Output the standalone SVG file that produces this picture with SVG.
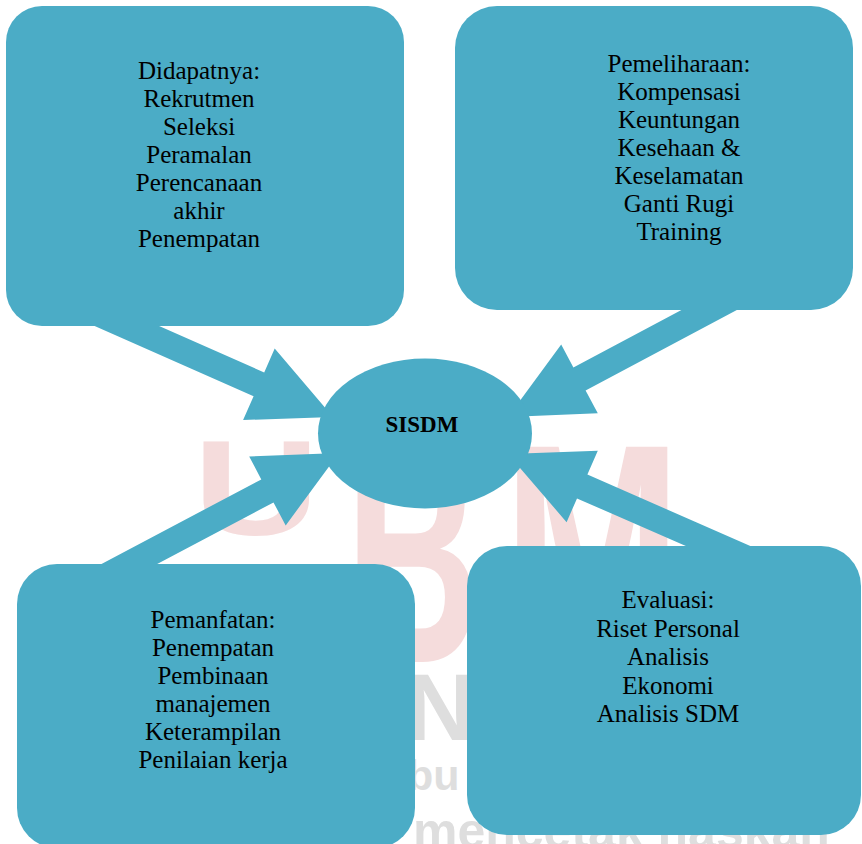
<svg xmlns="http://www.w3.org/2000/svg" width="862" height="844" viewBox="0 0 862 844">
<style>
.shape{fill:#4BACC6;stroke:none}
.lbl{font-family:"Liberation Serif","Times New Roman",serif;font-size:25px;fill:#000;text-anchor:middle}
.title{font-family:"Liberation Serif","Times New Roman",serif;font-size:23px;font-weight:bold;fill:#000;text-anchor:middle}
.wmp{font-family:"Liberation Sans",Arial,sans-serif;font-weight:bold;fill:#f5dcdc}
.wmg{font-family:"Liberation Sans",Arial,sans-serif;font-weight:bold;fill:#dedede}
</style>
<rect width="862" height="844" fill="#ffffff"/>
<g id="watermark">
<text class="wmp" x="148.5" y="535" font-size="135" transform="scale(1.3,1)">U</text>
<text class="wmp" x="575" y="662" font-size="313" transform="scale(0.6,1)">B</text>
<text class="wmp" x="733" y="662" font-size="313" transform="scale(0.686,1)">M</text>
<text class="wmg" x="406" y="740" font-size="95">N</text>
<text class="wmg" x="407" y="790" font-size="43">bu</text>
<text class="wmg" x="413" y="848" font-size="50">mencetak naskah</text>
</g>
<g id="connectors">
<polygon class="shape" points="62.4,311.8 253.6,396.2 243.1,420 333,417 274.7,348.6 264.2,372.4 73,288"/>
<polygon class="shape" points="750,273.4 573.4,367.4 561.2,344.5 508,417 597.8,413.3 585.6,390.4 762.2,296.4"/>
<polygon class="shape" points="96.7,596 273.5,502.4 285.7,525.4 339,453 249.2,456.4 261.3,479.4 84.5,573"/>
<polygon class="shape" points="770.6,554.8 587.4,474.6 597.8,450.8 508,454 566.6,522.2 577,498.4 760.2,578.6"/>
</g>
<g id="node-didapatnya">
<rect class="shape" x="6" y="6" width="398" height="320" rx="36" ry="36"/>
<text class="lbl" x="199" y="79">Didapatnya:</text>
<text class="lbl" x="199" y="107">Rekrutmen</text>
<text class="lbl" x="199" y="135">Seleksi</text>
<text class="lbl" x="199" y="163">Peramalan</text>
<text class="lbl" x="199" y="191">Perencanaan</text>
<text class="lbl" x="199" y="219">akhir</text>
<text class="lbl" x="199" y="247">Penempatan</text>
</g>
<g id="node-pemeliharaan">
<rect class="shape" x="455" y="6" width="398" height="304" rx="42" ry="42"/>
<text class="lbl" x="679" y="72">Pemeliharaan:</text>
<text class="lbl" x="679" y="100">Kompensasi</text>
<text class="lbl" x="679" y="128">Keuntungan</text>
<text class="lbl" x="679" y="156">Kesehaan &amp;</text>
<text class="lbl" x="679" y="184">Keselamatan</text>
<text class="lbl" x="679" y="212">Ganti Rugi</text>
<text class="lbl" x="679" y="240">Training</text>
</g>
<g id="node-pemanfatan">
<rect class="shape" x="17" y="564" width="398" height="284" rx="40" ry="40"/>
<text class="lbl" x="213" y="628">Pemanfatan:</text>
<text class="lbl" x="213" y="656">Penempatan</text>
<text class="lbl" x="213" y="684">Pembinaan</text>
<text class="lbl" x="213" y="712">manajemen</text>
<text class="lbl" x="213" y="740">Keterampilan</text>
<text class="lbl" x="213" y="768">Penilaian kerja</text>
</g>
<g id="node-evaluasi">
<rect class="shape" x="467" y="546" width="394" height="289" rx="40" ry="40"/>
<text class="lbl" x="668" y="608">Evaluasi:</text>
<text class="lbl" x="668" y="636.5">Riset Personal</text>
<text class="lbl" x="668" y="665">Analisis</text>
<text class="lbl" x="668" y="693.5">Ekonomi</text>
<text class="lbl" x="668" y="722">Analisis SDM</text>
</g>
<g id="node-sisdm">
<ellipse class="shape" cx="425" cy="433.5" rx="107" ry="75"/>
<text class="title" x="422" y="432">SISDM</text>
</g>
</svg>
